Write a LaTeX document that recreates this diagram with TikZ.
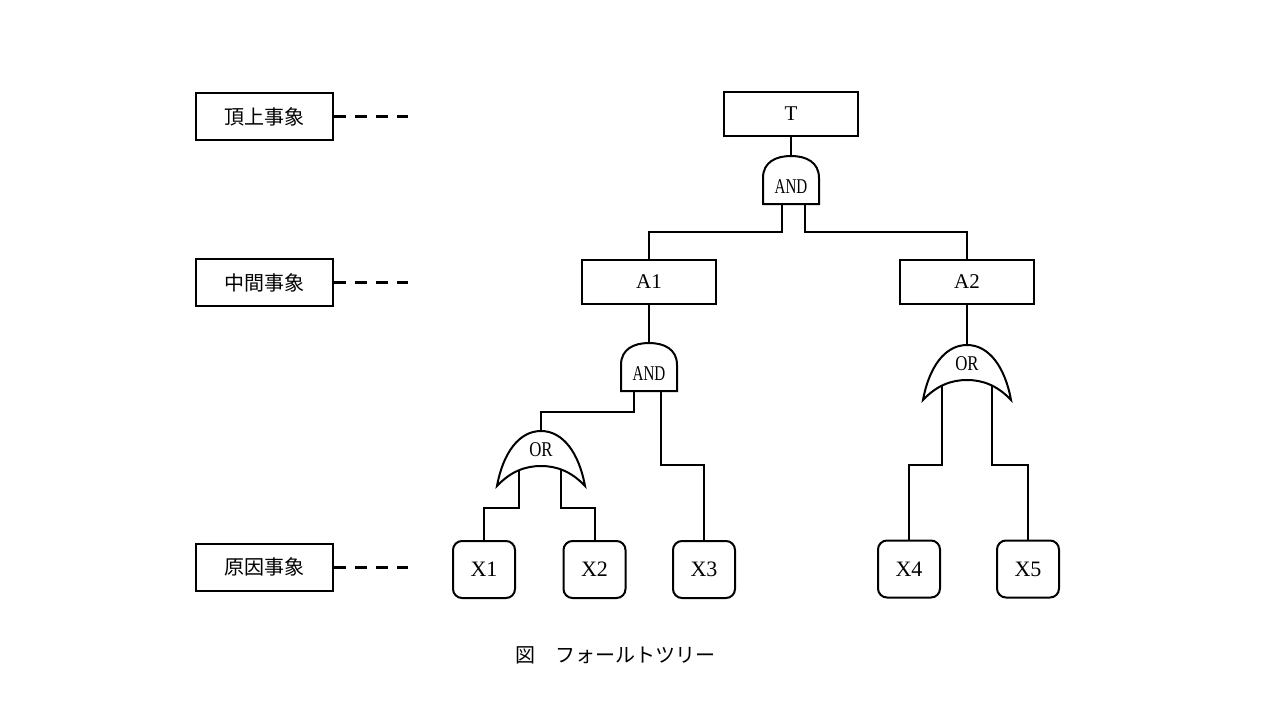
\documentclass[tikz,border=0pt]{standalone}
\usepackage{graphicx}
\usepackage{fontspec}
\setmainfont{Liberation Serif}
\newfontfamily\jp{Noto Sans CJK JP}
\usetikzlibrary{backgrounds}
\tikzset{
  wire/.style={line width=2pt},
  evbox/.style={draw, line width=2pt, minimum width=134pt, minimum height=44pt, inner sep=0pt, font=\fontsize{21}{21}\selectfont},
  lblbox/.style={draw, line width=2pt, minimum width=137pt, minimum height=47pt, inner sep=0pt, font=\jp\fontsize{20}{20}\selectfont},
  basicbox/.style={draw, rounded corners=9pt, line width=2pt, minimum width=62pt, minimum height=57pt, inner sep=0pt, font=\fontsize{22}{22}\selectfont},
  dashline/.style={line width=3pt, dash pattern=on 12pt off 9pt},
  gatefont/.style={font=\fontsize{21}{21}\selectfont, inner sep=0pt},
  andgate/.pic={
    \draw[line width=2pt, fill=white] (-28,48) -- (-28,22) .. controls (-28,6) and (-15,0) .. (0,0) .. controls (15,0) and (28,6) .. (28,22) -- (28,48) -- cycle;
    \node[gatefont] (-txt) at (0,31) {\scalebox{0.72}[1]{AND}};
    \coordinate (-top) at (0,0);
    \coordinate (-bot) at (0,48);
  },
  orgate/.pic={
    \draw[line width=2pt, fill=white] (-44,55) .. controls (-38,22) and (-22,0) .. (0,0) .. controls (22,0) and (38,22) .. (44,55) .. controls (30,40) and (15,35) .. (0,35) .. controls (-15,35) and (-30,40) .. (-44,55) -- cycle;
    \node[gatefont] (-txt) at (0,19) {\scalebox{0.8}[1]{OR}};
    \coordinate (-top) at (0,0);
    \coordinate (-in) at (0,35);
  },
}
\begin{document}
\begin{tikzpicture}[x=1pt, y=-1pt]
\useasboundingbox (0,0) rectangle (1280,720);

% legend boxes
\node[lblbox] (L1) at (264.5,116.5) {頂上事象};
\node[lblbox] (L2) at (264.5,282.5) {中間事象};
\node[lblbox] (L3) at (264.5,567) {原因事象};
\coordinate (d1) at (408,116.5);
\coordinate (d2) at (408,282.5);
\coordinate (d3) at (408,567);
\draw[dashline] (L1.east) -- (d1);
\draw[dashline] (L2.east) -- (d2);
\draw[dashline] (L3.east) -- (d3);

% events
\node[evbox] (T) at (791,114) {T};
\node[evbox] (A1) at (649,281.5) {A1};
\node[evbox] (A2) at (967,281.5) {A2};
\node[basicbox] (X1) at (484,569.5) {X1};
\node[basicbox] (X2) at (594.5,569.5) {X2};
\node[basicbox] (X3) at (704,569.5) {X3};
\node[basicbox] (X4) at (909,569) {X4};
\node[basicbox] (X5) at (1028,569) {X5};

% gates
\pic (G1) at (791,156) {andgate};
\pic (G2) at (649,343) {andgate};
\pic (O1) at (541,431) {orgate};
\pic (O2) at (967,345) {orgate};

% connectors
\begin{scope}[on background layer]
\begin{scope}[wire]
\draw (T.south) -- (G1-top);
\draw ([xshift=-9pt]G1-bot) -- ++(0,28) -| (A1.north);
\draw ([xshift=14pt]G1-bot) -- ++(0,28) -| (A2.north);
\draw (A1.south) -- (G2-top);
\draw ([xshift=-15pt]G2-bot) -- ++(0,21) -| (O1-top);
\draw ([xshift=12pt]G2-bot) -- ++(0,74) -| (X3.north);
\draw ([xshift=-22pt]O1-in) -- ++(0,42) -| (X1.north);
\draw ([xshift=20pt]O1-in) -- ++(0,42) -| (X2.north);
\draw (A2.south) -- (O2-top);
\draw ([xshift=-25pt]O2-in) -- ++(0,85) -| (X4.north);
\draw ([xshift=25pt]O2-in) -- ++(0,85) -| (X5.north);
\end{scope}
\end{scope}

% caption
\node[font=\jp\fontsize{20}{20}\selectfont, inner sep=0pt] (cap) at (615,655) {図　フォールトツリー};
\end{tikzpicture}
\end{document}
